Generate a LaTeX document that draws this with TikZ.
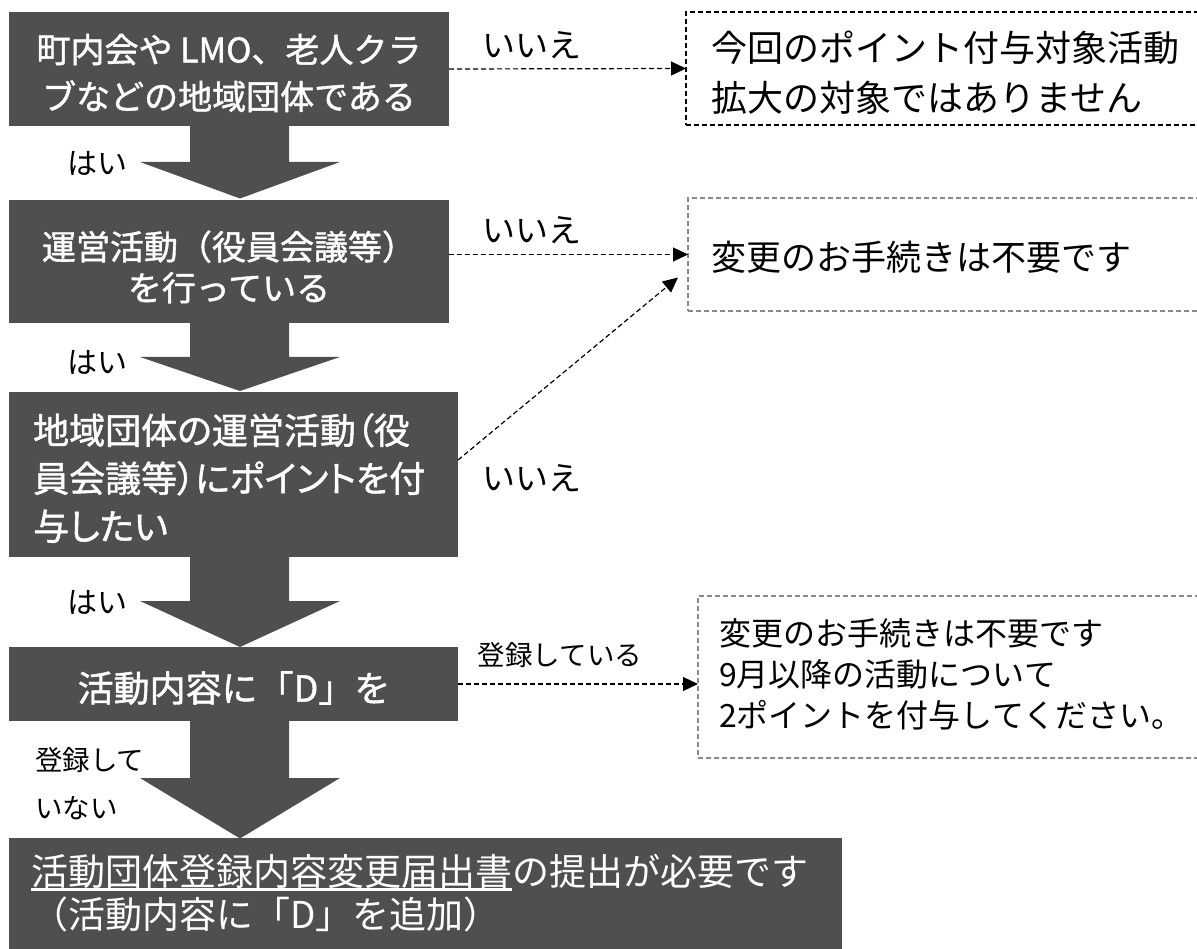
\documentclass[tikz,border=0pt]{standalone}
\usepackage{fontspec}
\usetikzlibrary{arrows.meta,calc}
\newfontfamily\jp{Noto Sans CJK JP}
\newfontfamily\jpb{Noto Sans CJK JP}[FakeBold=1.2]
\newfontfamily\jpbp{Noto Sans CJK JP}[FakeBold=1.2,RawFeature=+palt]
\definecolor{boxgray}{HTML}{4F4F4F}
\definecolor{rgray}{HTML}{8A8A8A}
\newcommand\ulw[1]{\setbox0\hbox{#1}\rlap{\rule[-6pt]{\wd0}{3pt}}\box0}
\begin{document}
\begin{tikzpicture}[x=1pt,y=-1pt,
  box/.style={fill=boxgray,draw=none,inner sep=0pt,outer sep=0pt},
  rbox/.style={draw=#1,dash pattern=on 5pt off 3pt,line width=1.3pt,inner sep=0pt,outer sep=0pt},
  wtext/.style={text=white,inner sep=0pt},
  btext/.style={text=black,inner sep=0pt},
  lbl/.style={text=black,inner sep=0pt},
  conn/.style={dash pattern=on 5pt off 3pt,line width=1.2pt,-{Triangle[length=15pt,width=14pt]}},
  barrow/.style={fill=boxgray,draw=none}]
\useasboundingbox (0,0) rectangle (1197,949);
\clip (0,0) rectangle (1197,949);
% left boxes
\node[box,minimum width=440pt,minimum height=114pt] (b1) at (229,69) {};
\node[box,minimum width=440pt,minimum height=123pt] (b2) at (229,261.5) {};
\node[box,minimum width=449pt,minimum height=165pt] (b3) at (233.5,474.5) {};
\node[box,minimum width=449pt,minimum height=74pt] (b4) at (233.5,684) {};
\node[box,minimum width=833pt,minimum height=120pt] (b5) at (425.5,898) {};
% block arrows
\fill[barrow] (190,124) -- (190,162) -- (140,162) -- (240,198.5) -- (340,162) -- (289,162) -- (289,124) -- cycle;
\fill[barrow] (190,321) -- (190,357) -- (140,357) -- (240,391) -- (340,357) -- (289,357) -- (289,321) -- cycle;
\fill[barrow] (190,555) -- (190,601) -- (140,601) -- (240,647) -- (340,601) -- (289,601) -- (289,555) -- cycle;
\fill[barrow] (190,719) -- (190,778) -- (140,778) -- (240,838.5) -- (340,778) -- (289,778) -- (289,719) -- cycle;
% texts in left boxes
\node[wtext,align=center,font=\jpb\fontsize{34}{47}\selectfont] (t1) at (229,73) {町内会や LMO、老人クラ\\ブなどの地域団体である};
\node[wtext,align=center,font=\jpb\fontsize{34}{41}\selectfont] (t2) at (229,267) {運営活動（役員会議等）\\を行っている};
\node[wtext,align=left,anchor=west,font=\jpbp\fontsize{36}{48}\selectfont] (t3) at (33,478) {地域団体の運営活動（役\\員会議等）にポイントを付\\与したい};
\node[wtext,font=\jpb\fontsize{36}{40}\selectfont] (t4) at (234,688) {活動内容に「D」を};
\node[wtext,align=left,anchor=west,font=\jp\fontsize{37}{43}\selectfont] (t5) at (31,893) {\ulw{活動団体登録内容変更届出書}の提出が必要です\\（活動内容に「D」を追加）};
% right boxes
\node[rbox=black,minimum width=520pt,minimum height=113pt] (r1) at (946,68.5) {};
\node[rbox=rgray,minimum width=520pt,minimum height=113pt] (r2) at (948,254.5) {};
\node[rbox=rgray,minimum width=510pt,minimum height=162pt] (r3) at (953,677) {};
\node[btext,align=left,anchor=west,font=\jp\fontsize{36}{50}\selectfont] (s1) at (711,73) {今回のポイント付与対象活動\\拡大の対象ではありません};
\node[btext,anchor=west,font=\jp\fontsize{35}{40}\selectfont] (s2) at (711,257) {変更のお手続きは不要です};
\node[btext,align=left,anchor=west,font=\jp\fontsize{32}{41}\selectfont] (s3) at (719,674) {変更のお手続きは不要です\\9月以降の活動について\\2ポイントを付与してください。};
% connectors
\coordinate (d3) at (458,460);
\coordinate (d2) at ($(r2.west)+(-10,23)$);
\draw[conn] (b1.east) -- (r1.west);
\draw[conn] (b2.east |- r2.west) -- (r2.west);
\draw[conn] (d3) -- (d2);
\draw[conn] (b4.east) -- (b4.east -| r3.west);
% labels
\node[lbl,font=\jp\fontsize{33}{36}\selectfont] (n1) at (532,45) {いいえ};
\node[lbl,font=\jp\fontsize{33}{36}\selectfont] (n2) at (532,230) {いいえ};
\node[lbl,font=\jp\fontsize{33}{36}\selectfont] (n3) at (532,478) {いいえ};
\node[lbl,font=\jp\fontsize{30}{34}\selectfont] (y1) at (97,163) {はい};
\node[lbl,font=\jp\fontsize{30}{34}\selectfont] (y2) at (97,362) {はい};
\node[lbl,font=\jp\fontsize{30}{34}\selectfont] (y3) at (97,602) {はい};
\node[lbl,font=\jp\fontsize{27.5}{30}\selectfont] (k1) at (560,655) {登録している};
\node[lbl,anchor=west,font=\jp\fontsize{27.5}{30}\selectfont] (k2) at (35,760) {登録して};
\node[lbl,anchor=west,font=\jp\fontsize{27.5}{30}\selectfont] (k3) at (35,808) {いない};
\end{tikzpicture}
\end{document}
